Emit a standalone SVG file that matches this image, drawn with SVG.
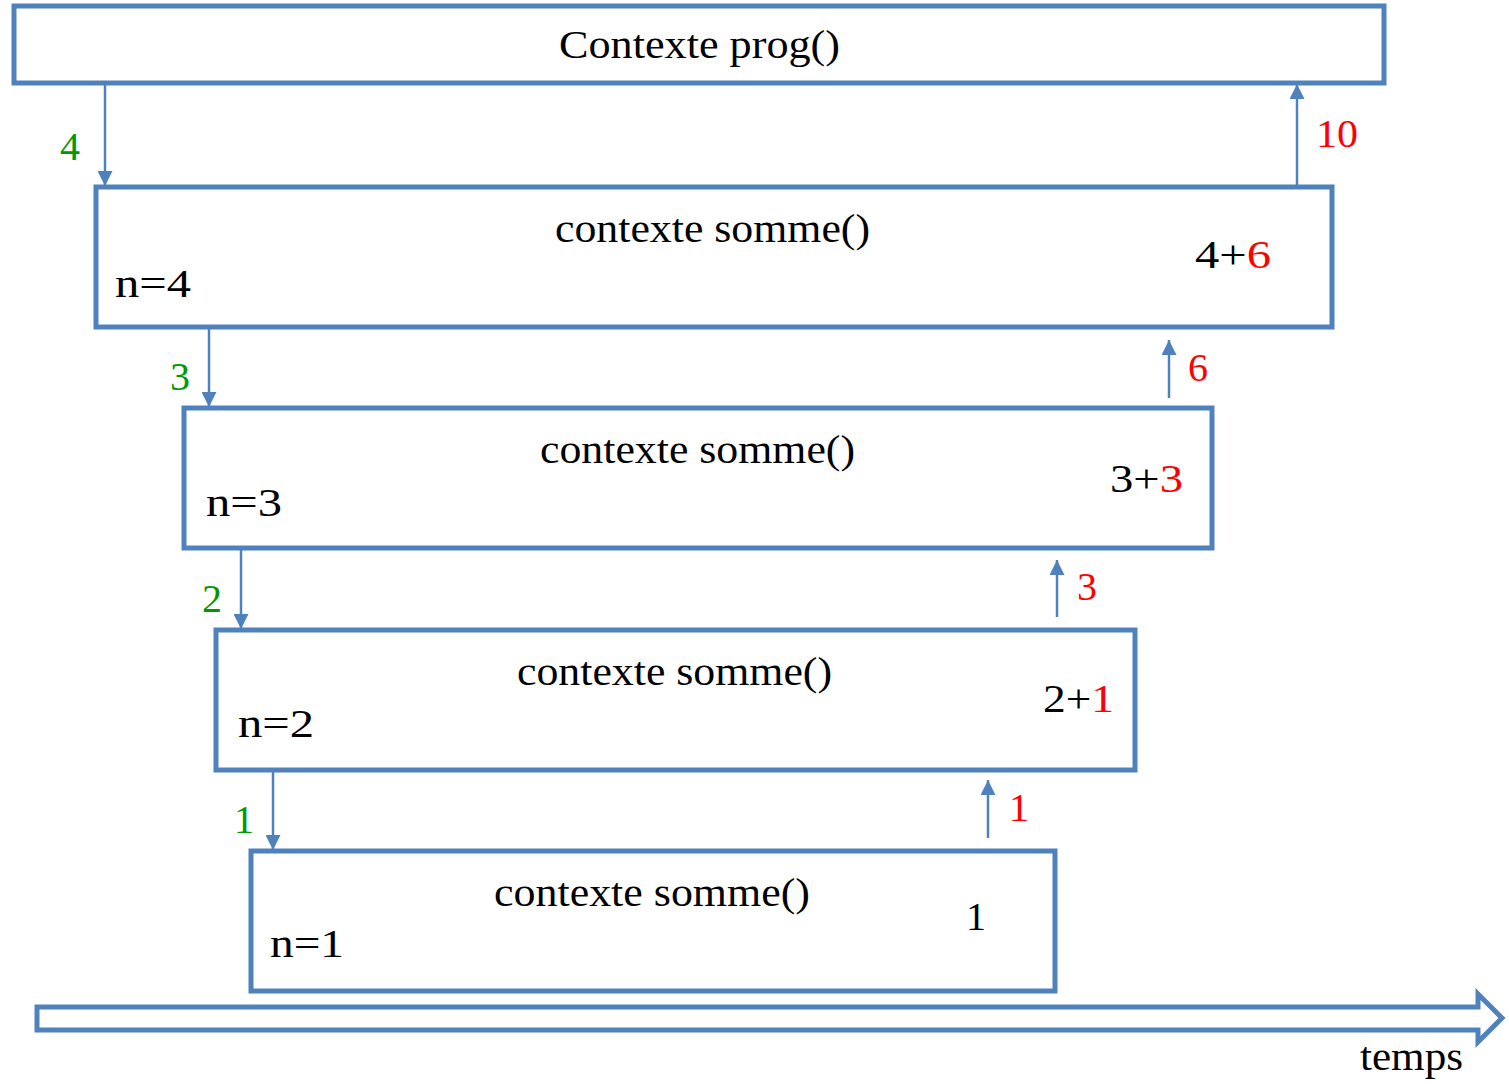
<svg xmlns="http://www.w3.org/2000/svg" width="1509" height="1084" viewBox="0 0 1509 1084">
<style>
.box{fill:#fff;stroke:#4F81BD;stroke-width:5}
.ln{stroke:#4F81BD;stroke-width:2.5;fill:none}
text{font-family:"Liberation Serif",serif;font-size:40px;fill:#000}
.g{fill:#009900}
.r{fill:#FF0000}
</style>
<defs>
<marker id="ah" viewBox="0 0 10 10" refX="10" refY="5" markerWidth="6" markerHeight="6" markerUnits="strokeWidth" orient="auto">
<path d="M0,0 L10,5 L0,10 z" fill="#4F81BD"/>
</marker>
</defs>
<rect width="1509" height="1084" fill="#fff"/>
<g id="prog"><rect class="box" x="14" y="6" width="1370" height="77"/><text x="559" y="58" textLength="281" lengthAdjust="spacingAndGlyphs">Contexte prog()</text></g>
<g id="somme4"><rect class="box" x="96" y="187" width="1236" height="140"/><text x="555" y="242" textLength="315" lengthAdjust="spacingAndGlyphs">contexte somme()</text><text x="115" y="297" textLength="76" lengthAdjust="spacingAndGlyphs">n=4</text><text x="1195" y="268" textLength="76" lengthAdjust="spacingAndGlyphs">4+<tspan class="r">6</tspan></text></g>
<g id="somme3"><rect class="box" x="184" y="408" width="1028" height="140"/><text x="540" y="463" textLength="315" lengthAdjust="spacingAndGlyphs">contexte somme()</text><text x="206" y="516" textLength="76" lengthAdjust="spacingAndGlyphs">n=3</text><text x="1110" y="492" textLength="73" lengthAdjust="spacingAndGlyphs">3+<tspan class="r">3</tspan></text></g>
<g id="somme2"><rect class="box" x="216" y="630" width="919" height="140"/><text x="517" y="685" textLength="315" lengthAdjust="spacingAndGlyphs">contexte somme()</text><text x="238" y="737" textLength="76" lengthAdjust="spacingAndGlyphs">n=2</text><text x="1043" y="712" textLength="71" lengthAdjust="spacingAndGlyphs">2+<tspan class="r">1</tspan></text></g>
<g id="somme1"><rect class="box" x="251" y="851" width="804" height="140"/><text x="494" y="906" textLength="316" lengthAdjust="spacingAndGlyphs">contexte somme()</text><text x="270" y="957" textLength="74" lengthAdjust="spacingAndGlyphs">n=1</text><text x="966" y="930">1</text></g>
<g id="temps"><polygon class="box" points="37,1007 1478,1007 1478,994 1502,1018 1478,1042 1478,1030 37,1030"/><text x="1360" y="1070" textLength="103" lengthAdjust="spacingAndGlyphs">temps</text></g>
<g id="connectors">
<line class="ln" x1="105" y1="85" x2="105" y2="186" marker-end="url(#ah)"/>
<line class="ln" x1="209" y1="329" x2="209" y2="407" marker-end="url(#ah)"/>
<line class="ln" x1="241" y1="550" x2="241" y2="629" marker-end="url(#ah)"/>
<line class="ln" x1="273" y1="772" x2="273" y2="850" marker-end="url(#ah)"/>
<line class="ln" x1="1297" y1="185" x2="1297" y2="84" marker-end="url(#ah)"/>
<line class="ln" x1="1169" y1="398" x2="1169" y2="340" marker-end="url(#ah)"/>
<line class="ln" x1="1057" y1="617" x2="1057" y2="560" marker-end="url(#ah)"/>
<line class="ln" x1="988" y1="838" x2="988" y2="780" marker-end="url(#ah)"/>
<text class="g" x="60" y="160">4</text>
<text class="g" x="170" y="390">3</text>
<text class="g" x="202" y="612">2</text>
<text class="g" x="234" y="833">1</text>
<text class="r" x="1316" y="147" textLength="42" lengthAdjust="spacingAndGlyphs">10</text>
<text class="r" x="1188" y="381">6</text>
<text class="r" x="1077" y="600">3</text>
<text class="r" x="1009" y="821">1</text>
</g>
</svg>
